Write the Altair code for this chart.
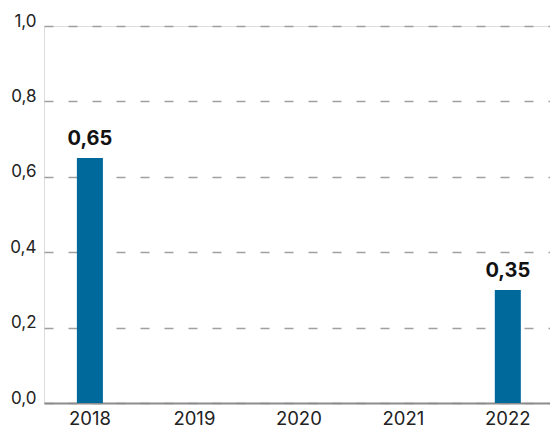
import altair as alt
import pandas as pd

years = ["2018", "2019", "2020", "2021", "2022"]
values = [0.65, 0.0, 0.0, 0.0, 0.30]
labels = ["0,65", "", "", "", "0,35"]

df = pd.DataFrame({"year": years, "value": values, "label": labels})

FONT = "Inter"

x = alt.X("year:N", sort=years, title=None,
          scale=alt.Scale(paddingInner=0.751, paddingOuter=0.297, align=0.53),
          axis=alt.Axis(labelAngle=0, labelFont=FONT, labelFontSize=18.5,
                        labelColor="#222222", labelPadding=6, ticks=False,
                        domain=True, domainColor="#8c8c8c", domainWidth=2,
                        grid=False))
y = alt.Y("value:Q", title=None,
          scale=alt.Scale(domain=[0, 1.0], nice=False),
          axis=alt.Axis(values=[0.2, 0.4, 0.6, 0.8, 1.0, 0],
                        labelExpr="replace(format(datum.value, '.1f'), '.', ',')",
                        labelFont=FONT, labelFontSize=17, labelColor="#222222",
                        labelBaseline="alphabetic",
                        labelPadding=8, ticks=False, domain=False,
                        grid=True, gridColor="#a0a0a0", gridDash=[9, 15],
                        gridWidth=1.5, gridCap="butt"))

bars = alt.Chart(df).mark_bar(color="#00699B").encode(x=x, y=y)
text = alt.Chart(df).mark_text(
    font=FONT, fontSize=20, fontWeight="bold", color="#111111",
    baseline="alphabetic", dy=-13
).encode(x=x, y=y, text="label:N")

chart = (bars + text).properties(
    width=506, height=377,
    autosize=alt.AutoSizeParams(type="none"),
    padding={"left": 44, "top": 26, "right": 0, "bottom": 25},
).configure_view(strokeOpacity=0, strokeWidth=0).configure_axis(
    domain=False, tickOpacity=0
).configure(background="white")

chart.save("out.html", embed_options={"renderer": "svg", "actions": False})
